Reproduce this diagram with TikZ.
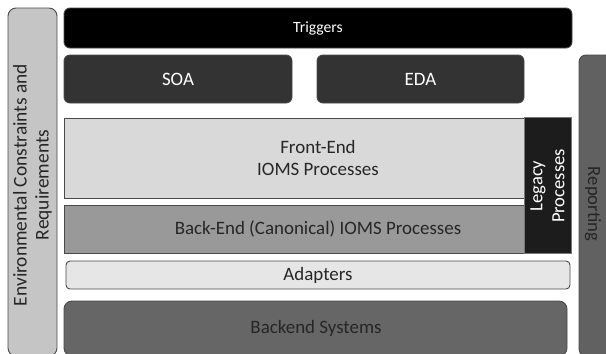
\documentclass[tikz,border=0pt]{standalone}
\usepackage{fontspec}
\setmainfont{Carlito}
\definecolor{inkdark}{HTML}{262626}
\definecolor{edgegrey}{HTML}{4A4A4A}
\begin{document}
\begin{tikzpicture}[x=1bp,y=-1bp,
  layer/.style={draw=edgegrey,line width=0.9bp},
  roundlayer/.style={layer,rounded corners=6bp},
  lbl/.style={font=\fontsize{19}{23}\selectfont,align=center,text=inkdark},
  wlbl/.style={font=\fontsize{19}{23}\selectfont,align=center,text=white}]
\useasboundingbox (0,0) rectangle (606,353);
\clip (0,0) rectangle (606,353);
% side columns
\draw[roundlayer,rounded corners=8bp,fill={rgb,255:red,197;green,197;blue,197}] (8,8) rectangle (57,356);
\node[lbl,rotate=90,font=\fontsize{19.5}{22}\selectfont] (env) at (32.5,185) {Environmental Constraints and\\Requirements};
\draw[roundlayer,rounded corners=7bp,fill={rgb,255:red,97;green,97;blue,97}] (579,55) rectangle (612,356);
\node[lbl,rotate=-90,font=\fontsize{18.7}{22}\selectfont] (rep) at (593,204) {Reporting};
% top rows
\draw[roundlayer,fill=black] (64,8) rectangle (572,48);
\node[wlbl,font=\fontsize{15.7}{18}\selectfont] (trig) at (318,28) {Triggers};
\draw[roundlayer,fill={rgb,255:red,51;green,51;blue,51}] (64,55) rectangle (292,103);
\node[wlbl] (soa) at (178,79) {SOA};
\draw[roundlayer,fill={rgb,255:red,51;green,51;blue,51}] (317,55) rectangle (524,103);
\node[wlbl] (eda) at (420.5,79) {EDA};
% process layers
\draw[layer,fill={rgb,255:red,217;green,217;blue,217}] (64,118) rectangle (524,198);
\node[lbl] (fe) at (318,158) {Front-End\\IOMS Processes};
\draw[layer,fill={rgb,255:red,153;green,153;blue,153}] (64,205) rectangle (524,253);
\node[lbl] (be) at (318,229) {Back-End (Canonical) IOMS Processes};
\draw[layer,draw={rgb,255:red,120;green,120;blue,120},fill={rgb,255:red,28;green,28;blue,28}] (524,117) rectangle (571,253);
\node[wlbl,rotate=90,font=\fontsize{18.7}{22}\selectfont] (leg) at (547.5,186) {Legacy\\Processes};
% integration and systems
\draw[roundlayer,rounded corners=4bp,fill={rgb,255:red,230;green,230;blue,230}] (66,261) rectangle (570,289);
\node[lbl] (ad) at (318,275) {Adapters};
\draw[roundlayer,rounded corners=8bp,fill={rgb,255:red,102;green,102;blue,102}] (64,301) rectangle (567,356);
\node[lbl] (bs) at (316,328) {Backend Systems};
\end{tikzpicture}
\end{document}
